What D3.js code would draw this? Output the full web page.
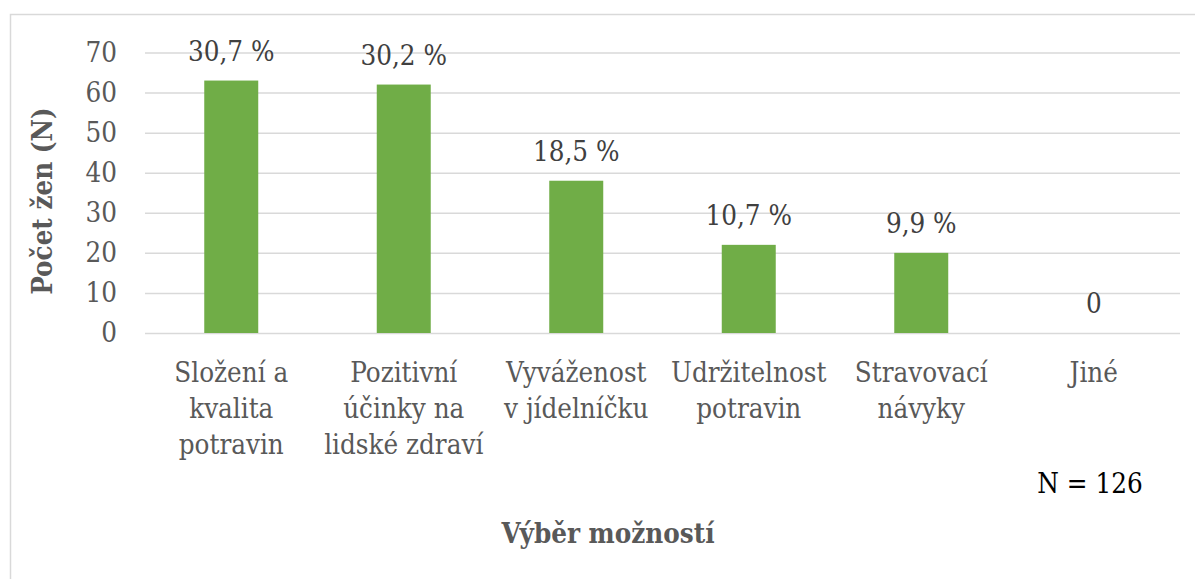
<!DOCTYPE html>
<html>
<head>
<meta charset="utf-8">
<script src="https://cdnjs.cloudflare.com/ajax/libs/d3/7.8.5/d3.min.js"></script>
<style>
  body { margin: 0; background: white; }
  svg text { font-family: 'DejaVu Serif Condensed', 'DejaVu Serif', serif; font-stretch: condensed; }
</style>
</head>
<body>
<div id="chart"></div>
<script>
// categories (each label split into its lines) and values
const categories = ['Složení a kvalita potravin', 'Pozitivní účinky na lidské zdraví',
                    'Vyváženost v jídelníčku', 'Udržitelnost potravin',
                    'Stravovací návyky', 'Jiné'];
const categoryLines = [
    ['Složení a', 'kvalita', 'potravin'],
    ['Pozitivní', 'účinky na', 'lidské zdraví'],
    ['Vyváženost', 'v jídelníčku'],
    ['Udržitelnost', 'potravin'],
    ['Stravovací', 'návyky'],
    ['Jiné']
];
const counts = [63, 62, 38, 22, 20, 0];
const percentLabels = ['30,7 %', '30,2 %', '18,5 %', '10,7 %', '9,9 %', '0'];
const yTicks = [0, 10, 20, 30, 40, 50, 60, 70];

const fontSize = 27.5;

let width = 1195,
    height = 579;

let margin = { top: 52.5, bottom: 246, left: 145, right: 15 };

let svg = d3.select('#chart')
            .append('svg')
            .attr('width', width)
            .attr('height', height)
            .style('background', 'white');

// chart frame (only top and left edge visible)
svg.append('rect')
    .attr('x', 10.5)
    .attr('y', 14.5)
    .attr('width', width + 20)
    .attr('height', height + 20)
    .attr('fill', 'none')
    .attr('stroke', '#d9d9d9')
    .attr('stroke-width', 1.5);

let xScale = d3.scaleBand()
            .domain(categories)
            .range([margin.left, width - margin.right])
            .paddingInner(0.687)
            .paddingOuter(0.3435);

let yScale = d3.scaleLinear()
            .domain([0, 70])
            .range([height - margin.bottom, margin.top]);

// gridlines + tick labels
let yAxis = svg.append('g')
            .attr('transform', `translate(${margin.left}, 0)`)
            .call(d3.axisLeft(yScale)
                    .tickValues(yTicks)
                    .tickSize(-(width - margin.left - margin.right))
                    .tickPadding(28));
yAxis.attr('font-family', null).attr('font-size', fontSize);
yAxis.select('.domain').remove();
yAxis.selectAll('.tick line')
    .attr('stroke', '#d9d9d9')
    .attr('stroke-width', 1.5);
yAxis.selectAll('.tick text')
    .attr('fill', '#595959');

// bars
svg.selectAll('rect.bar')
    .data(counts)
    .enter()
    .append('rect')
    .attr('class', 'bar')
    .attr('x', (d, i) => xScale(categories[i]))
    .attr('y', d => yScale(d))
    .attr('width', xScale.bandwidth())
    .attr('height', d => yScale(0) - yScale(d))
    .attr('fill', '#70ad47');

// data labels
svg.selectAll('text.value')
    .data(counts)
    .enter()
    .append('text')
    .attr('class', 'value')
    .attr('x', (d, i) => xScale(categories[i]) + xScale.bandwidth() / 2)
    .attr('y', d => yScale(d) - 20)
    .attr('text-anchor', 'middle')
    .attr('fill', '#404040')
    .attr('font-size', fontSize)
    .text((d, i) => percentLabels[i]);

// category labels
let catLabel = svg.selectAll('text.cat')
    .data(categoryLines)
    .enter()
    .append('text')
    .attr('class', 'cat')
    .attr('text-anchor', 'middle')
    .attr('fill', '#595959')
    .attr('font-size', fontSize)
    .attr('transform', (d, i) =>
        `translate(${xScale(categories[i]) + xScale.bandwidth() / 2}, 382)`);

catLabel.selectAll('tspan')
    .data(d => d)
    .enter()
    .append('tspan')
    .attr('x', 0)
    .attr('y', (d, i) => i * 36)
    .text(d => d);

// y-axis title
svg.append('text')
    .attr('transform', 'translate(52, 201) rotate(-90)')
    .attr('text-anchor', 'middle')
    .attr('fill', '#595959')
    .attr('font-size', fontSize)
    .attr('font-weight', 'bold')
    .text('Počet žen (N)');

// x-axis title
svg.append('text')
    .attr('x', 608)
    .attr('y', 543)
    .attr('text-anchor', 'middle')
    .attr('fill', '#595959')
    .attr('font-size', fontSize)
    .attr('font-weight', 'bold')
    .text('Výběr možností');

// sample size note
svg.append('text')
    .attr('x', 1090)
    .attr('y', 493)
    .attr('text-anchor', 'middle')
    .attr('fill', '#000')
    .attr('font-size', fontSize)
    .text('N = 126');
</script>
</body>
</html>
